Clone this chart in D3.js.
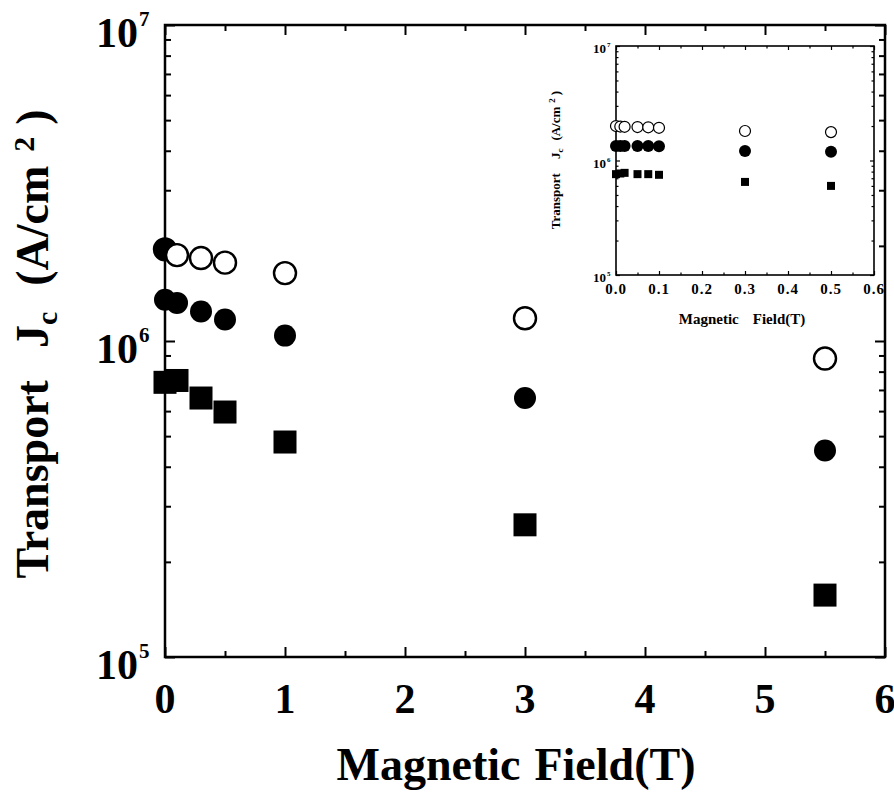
<!DOCTYPE html>
<html>
<head>
<meta charset="utf-8">
<script src="https://cdn.jsdelivr.net/npm/d3@7"></script>
<style>
body { margin: 0; background: #fff; }
</style>
</head>
<body>
<svg id="chart" width="894" height="800" font-family="'Liberation Serif', 'DejaVu Serif', serif" font-weight="bold"></svg>
<script>
// main plot: field (T) and transport Jc (A/cm2) for three samples
var mainField = [0, 0.1, 0.3, 0.5, 1, 3, 5.5];
var mainOpen = [1.95e6, 1.87e6, 1.83e6, 1.77e6, 1.64e6, 1.18e6, 0.88e6];
var mainFilled = [1.35e6, 1.32e6, 1.24e6, 1.17e6, 1.04e6, 0.66e6, 0.45e6];
var mainSquare = [0.74e6, 0.75e6, 0.66e6, 0.596e6, 0.479e6, 0.262e6, 0.157e6];

// inset: low field region
var insetField = [0, 0.01, 0.02, 0.05, 0.075, 0.1, 0.3, 0.5];
var insetOpen = [2.0e6, 1.98e6, 1.97e6, 1.96e6, 1.95e6, 1.93e6, 1.81e6, 1.77e6];
var insetFilled = [1.34e6, 1.34e6, 1.34e6, 1.34e6, 1.34e6, 1.33e6, 1.21e6, 1.19e6];
var insetSquare = [0.76e6, 0.77e6, 0.78e6, 0.76e6, 0.76e6, 0.75e6, 0.65e6, 0.60e6];

// tick labels
var mainXTicks = [0, 1, 2, 3, 4, 5, 6];
var mainXMinor = [0.5, 1.5, 2.5, 3.5, 4.5, 5.5];
var insetXTicks = [0, 0.1, 0.2, 0.3, 0.4, 0.5, 0.6];
var insetXMinor = [0.05, 0.15, 0.25, 0.35, 0.45, 0.55];
var decades = [1e5, 1e6, 1e7];

var svg = d3.select("#chart");

var x = d3.scaleLinear().domain([0, 6]).range([165, 885]);
var y = d3.scaleLog().domain([1e5, 1e7]).range([657, 25]);

var xi = d3.scaleLinear().domain([0, 0.6]).range([616, 874]);
var yi = d3.scaleLog().domain([1e5, 1e7]).range([275, 46]);

/**
 * Draws the boxed frame with inward ticks on all four sides
 */
function drawFrame(g, xs, ys, o) {
    var x0 = xs.range()[0], x1 = xs.range()[1];
    var y0 = ys.range()[1], y1 = ys.range()[0];
    var minorY = ys.ticks().filter(v => decades.indexOf(v) < 0);

    var axes = [
        [d3.axisBottom(xs).tickValues(o.xMajor).tickSize(-o.major), y1, 0],
        [d3.axisBottom(xs).tickValues(o.xMinor).tickSize(-o.minor), y1, 0],
        [d3.axisTop(xs).tickValues(o.xMajor).tickSize(-o.major), y0, 0],
        [d3.axisTop(xs).tickValues(o.xMinor).tickSize(-o.minor), y0, 0],
        [d3.axisLeft(ys).tickValues(decades).tickSize(-o.major), 0, x0],
        [d3.axisLeft(ys).tickValues(minorY).tickSize(-o.minor), 0, x0],
        [d3.axisRight(ys).tickValues(decades).tickSize(-o.major), 0, x1],
        [d3.axisRight(ys).tickValues(minorY).tickSize(-o.minor), 0, x1]
    ];
    axes.forEach(a => {
        var ag = g.append("g")
            .attr("transform", "translate(" + a[2] + "," + a[1] + ")")
            .call(a[0].tickFormat(""));
        ag.select(".domain").remove();
        ag.selectAll("line").attr("stroke", "#000").attr("stroke-width", o.tickWidth);
    });

    g.append("rect")
        .attr("x", x0).attr("y", y0)
        .attr("width", x1 - x0).attr("height", y1 - y0)
        .attr("fill", "none")
        .attr("stroke", "#000")
        .attr("stroke-width", o.lineWidth);
}

function drawSeries(g, xs, ys, field, values, kind, size) {
    var pts = field.map((f, i) => ({f: f, v: values[i], i: i}));
    if (kind === "square") {
        g.selectAll(null).data(pts).enter().append("rect")
            .attr("x", d => xs(d.f) - size / 2)
            .attr("y", d => ys(d.v) - size / 2)
            .attr("width", size).attr("height", size)
            .attr("fill", "#000");
    } else {
        g.selectAll(null).data(pts).enter().append("circle")
            .attr("cx", d => xs(d.f))
            .attr("cy", d => ys(d.v))
            .attr("r", size / 2)
            // the scan shows the first open marker of the main plot inked in
            .attr("fill", d => kind === "filled" || (kind === "open" && d.i === 0 && size > 15) ? "#000" : "#fff")
            .attr("stroke", "#000")
            .attr("stroke-width", kind === "open" ? size / 9 : 0);
    }
}

function label(g) {
    return g.append("text")
        .attr("font-family", "'Liberation Serif', 'DejaVu Serif', serif")
        .attr("font-weight", "bold")
        .attr("fill", "#000");
}

// ---- main plot ----
var main = svg.append("g");
drawFrame(main, x, y, {xMajor: mainXTicks, xMinor: mainXMinor, major: 10, minor: 6, tickWidth: 2, lineWidth: 2.5});

mainXTicks.forEach(d => {
    label(main)
        .attr("x", x(d))
        .attr("y", 713)
        .attr("text-anchor", "middle")
        .attr("font-size", 42)
        .text(d);
});

decades.forEach(d => {
    label(main)
        .attr("x", 138).attr("y", y(d) + 22)
        .attr("text-anchor", "end")
        .attr("font-size", 42)
        .text("10");
    label(main)
        .attr("x", 139).attr("y", y(d) + 1)
        .attr("font-size", 21)
        .text(Math.round(Math.log10(d)));
});

var xlab = label(main)
    .attr("x", 516).attr("y", 780)
    .attr("text-anchor", "middle")
    .attr("font-size", 46);
xlab.append("tspan").text("Magnetic");
xlab.append("tspan").attr("dx", 14).text("Field(T)");

var ylab = label(main)
    .attr("transform", "translate(48,344) rotate(-90)")
    .attr("text-anchor", "middle")
    .attr("font-size", 46);
ylab.append("tspan").text("Transport");
ylab.append("tspan").attr("dx", 32).text("J");
ylab.append("tspan").attr("dy", 9).attr("font-size", 30).text("c");
ylab.append("tspan").attr("dy", -9).attr("dx", 26).text("(A/cm");
ylab.append("tspan").attr("dx", 14).attr("dy", -14).attr("font-size", 30).text("2");
ylab.append("tspan").attr("dx", 12).attr("dy", 14).text(")");

drawSeries(main, x, y, mainField, mainSquare, "square", 23);
drawSeries(main, x, y, mainField, mainFilled, "filled", 22);
drawSeries(main, x, y, mainField, mainOpen, "open", 22);

// ---- inset ----
var inset = svg.append("g");
drawFrame(inset, xi, yi, {xMajor: insetXTicks, xMinor: insetXMinor, major: 4, minor: 2.5, tickWidth: 1.2, lineWidth: 1.6});

insetXTicks.forEach(d => {
    label(inset)
        .attr("x", xi(d))
        .attr("y", 294)
        .attr("text-anchor", "middle")
        .attr("font-size", 15)
        .attr("letter-spacing", 1)
        .text(d3.format(".1f")(d));
});

decades.forEach(d => {
    label(inset)
        .attr("x", 606).attr("y", yi(d) + 7)
        .attr("text-anchor", "end")
        .attr("font-size", 13)
        .text("10");
    label(inset)
        .attr("x", 607).attr("y", yi(d) + 1)
        .attr("font-size", 7)
        .text(Math.round(Math.log10(d)));
});

var ixlab = label(inset)
    .attr("x", 742).attr("y", 324)
    .attr("text-anchor", "middle")
    .attr("font-size", 15);
ixlab.append("tspan").text("Magnetic");
ixlab.append("tspan").attr("dx", 14).text("Field(T)");

var iylab = label(inset)
    .attr("transform", "translate(560,160) rotate(-90)")
    .attr("text-anchor", "middle")
    .attr("font-size", 13);
iylab.append("tspan").text("Transport");
iylab.append("tspan").attr("dx", 14).text("J");
iylab.append("tspan").attr("dy", 3).attr("font-size", 9).text("c");
iylab.append("tspan").attr("dy", -3).attr("dx", 8).text("(A/cm");
iylab.append("tspan").attr("dx", 4).attr("dy", -5).attr("font-size", 9).text("2");
iylab.append("tspan").attr("dx", 3).attr("dy", 5).text(")");

drawSeries(inset, xi, yi, insetField, insetSquare, "square", 8);
drawSeries(inset, xi, yi, insetField, insetFilled, "filled", 12);
drawSeries(inset, xi, yi, insetField, insetOpen, "open", 11);
</script>
</body>
</html>
